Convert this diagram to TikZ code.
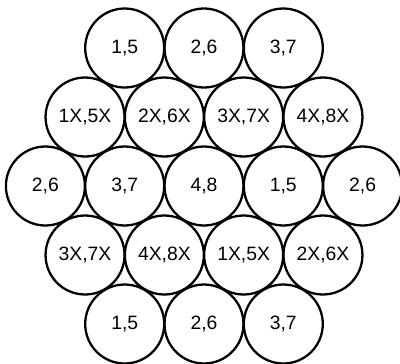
\documentclass[tikz,border=0pt]{standalone}
\usepackage{fontspec}
\setmainfont{Liberation Sans}
\usepackage{tikz}

\begin{document}
\begin{tikzpicture}[every node/.style={font=\fontsize{11}{13}\selectfont},
	wire/.style={circle, draw, line width=1.3pt, minimum size=1.58cm, inner sep=0pt}]
	\useasboundingbox (0,0) rectangle (8,7.26);
	% top row
	\node[wire] (a1) at (2.494,6.30) {1,5};
	\node[wire] (a2) at (4.080,6.30) {2,6};
	\node[wire] (a3) at (5.666,6.30) {3,7};
	% second row
	\node[wire] (b1) at (1.701,4.92) {1X,5X};
	\node[wire] (b2) at (3.287,4.92) {2X,6X};
	\node[wire] (b3) at (4.873,4.92) {3X,7X};
	\node[wire] (b4) at (6.459,4.92) {4X,8X};
	% middle row
	\node[wire] (c1) at (0.908,3.54) {2,6};
	\node[wire] (c2) at (2.494,3.54) {3,7};
	\node[wire] (c3) at (4.080,3.54) {4,8};
	\node[wire] (c4) at (5.666,3.54) {1,5};
	\node[wire] (c5) at (7.252,3.54) {2,6};
	% fourth row
	\node[wire] (d1) at (1.701,2.16) {3X,7X};
	\node[wire] (d2) at (3.287,2.16) {4X,8X};
	\node[wire] (d3) at (4.873,2.16) {1X,5X};
	\node[wire] (d4) at (6.459,2.16) {2X,6X};
	% bottom row
	\node[wire] (e1) at (2.494,0.78) {1,5};
	\node[wire] (e2) at (4.080,0.78) {2,6};
	\node[wire] (e3) at (5.666,0.78) {3,7};
\end{tikzpicture}
\end{document}
